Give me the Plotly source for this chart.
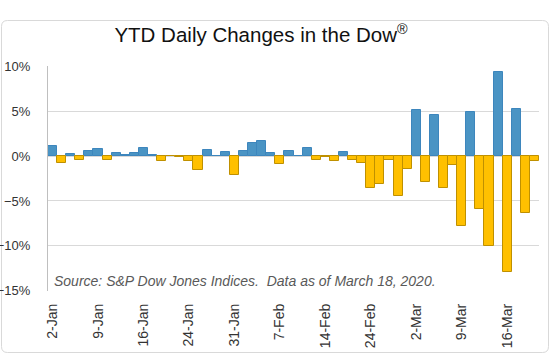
import plotly.graph_objects as go

# ---- data ----
dates = [
    "2-Jan", "3-Jan", "6-Jan", "7-Jan", "8-Jan", "9-Jan", "10-Jan", "13-Jan", "14-Jan", "15-Jan",
    "16-Jan", "17-Jan", "21-Jan", "22-Jan", "23-Jan", "24-Jan", "27-Jan", "28-Jan", "29-Jan", "30-Jan",
    "31-Jan", "3-Feb", "4-Feb", "5-Feb", "6-Feb", "7-Feb", "10-Feb", "11-Feb", "12-Feb", "13-Feb",
    "14-Feb", "18-Feb", "19-Feb", "20-Feb", "21-Feb", "24-Feb", "25-Feb", "26-Feb", "27-Feb", "28-Feb",
    "2-Mar", "3-Mar", "4-Mar", "5-Mar", "6-Mar", "9-Mar", "10-Mar", "11-Mar", "12-Mar", "13-Mar",
    "16-Mar", "17-Mar", "18-Mar", "19-Mar",
]
changes = [
    1.16, -0.81, 0.24, -0.42, 0.56, 0.74, -0.46, 0.29, 0.11, 0.31,
    0.92, 0.17, -0.52, -0.03, -0.09, -0.58, -1.57, 0.66, 0.04, 0.43,
    -2.09, 0.51, 1.44, 1.68, 0.30, -0.94, 0.60, 0.04, 0.94, -0.43,
    -0.09, -0.56, 0.40, -0.44, -0.78, -3.56, -3.15, -0.46, -4.42, -1.39,
    5.09, -2.94, 4.53, -3.58, -0.98, -7.79, 4.89, -5.86, -9.99, 9.36,
    -12.93, 5.20, -6.30, -0.55,
]
tick_labels = ["2-Jan", "9-Jan", "16-Jan", "24-Jan", "31-Jan", "7-Feb",
               "14-Feb", "24-Feb", "2-Mar", "9-Mar", "16-Mar"]

ups = [v if v > 0 else None for v in changes]
downs = [v if v <= 0 else None for v in changes]

W, H = 550, 357
L, R, T, B = 48, 11, 66, 66
pw, ph = W - L - R, H - T - B


def px(x):
    return (x - L) / pw


def py(y):
    return (H - B - y) / ph


fig = go.Figure()
fig.add_trace(go.Bar(x=dates, y=ups, marker=dict(color="#4A94C4", line=dict(color="#3D86BD", width=1)),
                     name="Up"))
fig.add_trace(go.Bar(x=dates, y=downs, marker=dict(color="#FFC000", line=dict(color="#BF9000", width=1)),
                     name="Down"))

# card outline with rounded corners
x0, x1, y0, y1, r = 1.5, 548.5, 20.5, 352.5, 6
path = (f"M {px(x0 + r)} {py(y0)} L {px(x1 - r)} {py(y0)} Q {px(x1)} {py(y0)} {px(x1)} {py(y0 + r)} "
        f"L {px(x1)} {py(y1 - r)} Q {px(x1)} {py(y1)} {px(x1 - r)} {py(y1)} "
        f"L {px(x0 + r)} {py(y1)} Q {px(x0)} {py(y1)} {px(x0)} {py(y1 - r)} "
        f"L {px(x0)} {py(y0 + r)} Q {px(x0)} {py(y0)} {px(x0 + r)} {py(y0)} Z")

fig.update_layout(
    width=W, height=H,
    margin=dict(l=L, r=R, t=T, b=B, autoexpand=False),
    paper_bgcolor="white", plot_bgcolor="white",
    barmode="overlay", bargap=0, showlegend=False,
    font=dict(family="Liberation Sans, Arial", color="#404040"),
    title=dict(text="YTD Daily Changes in the Dow<sup>®</sup>", x=261 / W, xanchor="center",
               y=1 - 35 / H, yanchor="middle",
               font=dict(size=20.5, color="#111111", family="Liberation Sans, Arial")),
    shapes=[dict(type="path", path=path, xref="paper", yref="paper",
                 line=dict(color="#D9D9D9", width=1), fillcolor="rgba(0,0,0,0)", layer="below")],
    annotations=[dict(text="<i>Source: S&P Dow Jones Indices.  Data as of March 18, 2020.</i>",
                      x=px(52), y=py(281), xref="paper", yref="paper", xanchor="left", yanchor="middle",
                      showarrow=False, font=dict(size=14, color="#595959", family="Liberation Sans, Arial"),
                      )],
)
fig.update_yaxes(range=[-15.03, 10.03], tick0=0, dtick=5, ticksuffix="%",
                 showgrid=True, gridcolor="#D9D9D9", automargin=False,
                 gridwidth=1, zeroline=False, showline=True, linecolor="#BFBFBF", linewidth=1,
                 tickfont=dict(size=13, color="#333333"), ticklabelstandoff=14)
fig.update_xaxes(type="category", tickmode="array", tickvals=tick_labels, ticktext=tick_labels,
                 tickangle=-90, showgrid=False, showline=False, automargin=False,
                 tickfont=dict(size=14, color="#333333"), ticklabelstandoff=9,
                 range=[-0.5, len(dates) - 0.5])

fig.write_html("out.html", config={"displayModeBar": False},
               post_script="document.body.style.margin='0';")
